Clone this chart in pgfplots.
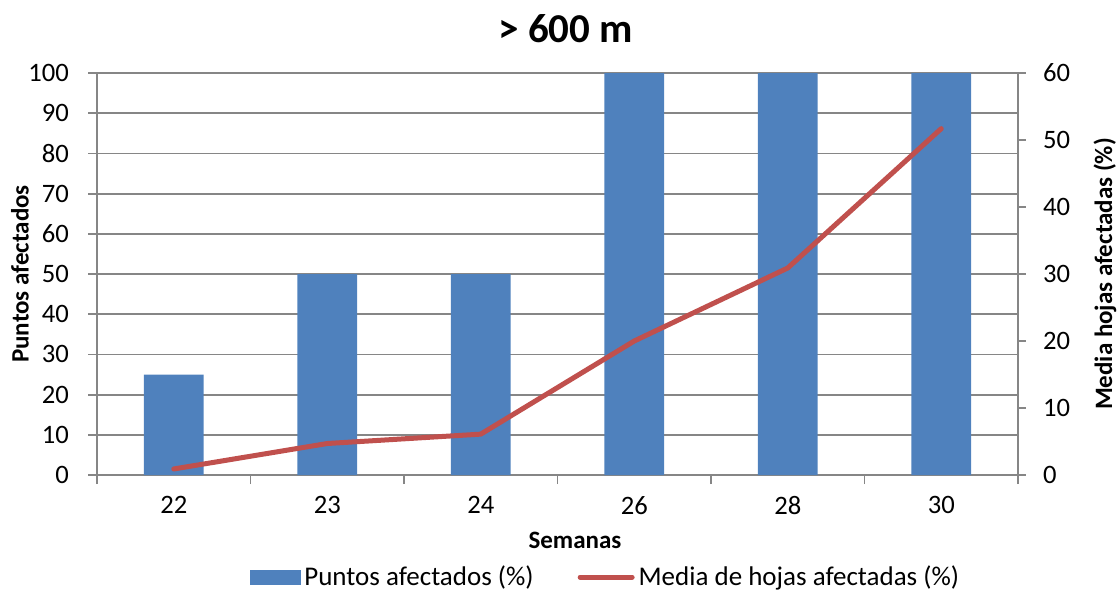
\documentclass[border=0pt]{standalone}
\usepackage{fontspec}
\setmainfont{Carlito}
\usepackage{pgfplots}
\pgfplotsset{compat=1.18}
\definecolor{barblue}{HTML}{4F81BD}
\definecolor{linered}{HTML}{C0504D}
\definecolor{gridgray}{RGB}{134,134,134}
\begin{document}
\begin{tikzpicture}
\useasboundingbox (-48.5pt,-57.5pt) rectangle (510.5pt,237.5pt);
\begin{axis}[
  at={(0,0)}, anchor=south west, scale only axis,
  width=460.5pt, height=201pt,
  xmin=-0.5, xmax=5.5, ymin=0, ymax=100,
  xtick={-0.5,0.5,...,5.5}, xticklabels={},
  extra x ticks={0,1,2,3,4,5},
  extra x tick labels={22,23,24,26,28,30},
  extra x tick style={major tick length=0pt, grid=none},
  ytick={0,10,...,100},
  axis y line*=left, axis x line*=bottom,
  ymajorgrids, xmajorgrids=false,
  grid style={gridgray, line width=0.9pt},
  axis line style={gridgray, line width=0.9pt},
  tick style={gridgray, line width=0.9pt},
  major tick length=4.5pt, tick align=outside,
  tick label style={font=\fontsize{13.3}{15}\selectfont},
  /pgf/number format/assume math mode=true,
  yticklabel style={xshift=-6pt},
  xticklabel style={yshift=-7pt},
  title={> 600 m},
  title style={at={(axis description cs:0.509,1.08)}, anchor=center,
    font=\bfseries\fontsize{20.5}{24}\selectfont},
  ylabel={Puntos afectados},
  every axis y label/.style={at={(axis description cs:-0.0836,0.5)}, rotate=90,
    anchor=center, font=\bfseries\fontsize{12.5}{15}\selectfont},
  xlabel={Semanas},
  every axis x label/.style={at={(axis description cs:0.519,-0.1617)},
    anchor=center, font=\bfseries\fontsize{12.5}{15}\selectfont},
]
\addplot[ybar, bar width=0.39, fill=barblue, draw=none]
  coordinates {(0,25) (1,50) (2,50) (3,100) (4,100) (5,100)};
\end{axis}
\begin{axis}[
  at={(0,0)}, anchor=south west, scale only axis,
  width=460.5pt, height=201pt,
  xmin=-0.5, xmax=5.5, ymin=0, ymax=60,
  axis x line=none, axis y line*=right,
  ytick={0,10,...,60},
  axis line style={gridgray, line width=0.9pt},
  tick style={gridgray, line width=0.9pt},
  major tick length=4pt, tick align=outside,
  tick label style={font=\fontsize{13.3}{15}\selectfont},
  /pgf/number format/assume math mode=true,
  yticklabel style={xshift=5pt},
  ylabel={Media hojas afectadas (\%)},
  every axis y label/.style={at={(axis description cs:1.0945,0.5)}, rotate=90,
    anchor=center, font=\bfseries\fontsize{12.5}{15}\selectfont},
  legend style={at={(axis description cs:0.553,-0.254)}, anchor=center,
    draw=none, fill=none, legend columns=2,
    font=\fontsize{13.5}{15}\selectfont,
    /tikz/every even column/.append style={column sep=20pt}},
]
\addlegendimage{legend image code/.code={\fill[barblue] (0pt,-3.5pt) rectangle (25pt,3.5pt);}}
\addlegendentry{Puntos afectados (\%)}
\addplot[linered, line width=2.5pt, line cap=round, line join=round,
  legend image code/.code={\draw[linered, line width=2.5pt] (0pt,0pt) -- (26pt,0pt);}]
  coordinates {(0,0.9) (1,4.7) (2,6.1) (3,20.0) (4,30.9) (5,51.7)};
\addlegendentry{Media de hojas afectadas (\%)}
\end{axis}
\end{tikzpicture}
\end{document}
